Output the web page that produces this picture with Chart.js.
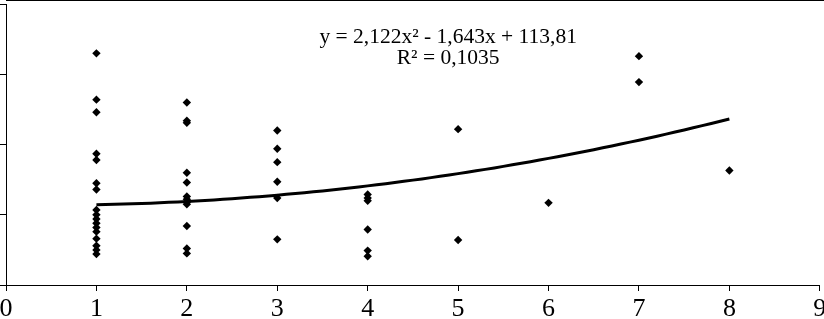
<!DOCTYPE html>
<html>
<head>
<meta charset="utf-8">
<script src="https://cdn.jsdelivr.net/npm/chart.js@4"></script>
<style>
html,body{margin:0;padding:0;background:#fff;overflow:hidden;}
#wrap{width:824px;height:319px;position:relative;}
</style>
</head>
<body>
<div id="wrap"><canvas id="c" width="824" height="319"></canvas></div>
<script>
// Observed points grouped by x category
const xCategories = [1, 2, 3, 4, 5, 6, 7, 8];
const valuesAt1 = [330, 264, 246, 187, 178, 145, 136, 107, 100, 94, 88, 82, 76, 66, 56, 50, 44];
const valuesAt2 = [260, 234, 231, 160, 146, 126, 122, 118, 115, 84, 52, 45];
const valuesAt3 = [220, 194, 175, 147, 124, 65];
const valuesAt4 = [129, 124, 120, 79, 49, 41];
const valuesAt5 = [222, 64];
const valuesAt6 = [117];
const valuesAt7 = [326, 289];
const valuesAt8 = [163];
// Trendline coefficients as printed on the chart
const trendA = 2.122, trendB = -1.643, trendC = 113.81;
const trendFrom = 1, trendTo = 8;
const equationText = "y = 2,122x\u00B2 - 1,643x + 113,81";
const r2Text = "R\u00B2 = 0,1035";
const xTickLabels = ["0","1","2","3","4","5","6","7","8","9"];

const groups = [valuesAt1, valuesAt2, valuesAt3, valuesAt4, valuesAt5, valuesAt6, valuesAt7, valuesAt8];
const scatterData = [];
groups.forEach((vals, i) => vals.forEach(v => scatterData.push({x: xCategories[i], y: v})));

const trendData = [];
for (let i = 0; i <= 70; i++) {
  const x = trendFrom + (trendTo - trendFrom) * i / 70;
  trendData.push({x: x, y: trendA * x * x + trendB * x + trendC});
}

const FONT = "'Liberation Serif', 'Times New Roman', serif";

const extras = {
  id: 'extras',
  afterDraw(chart) {
    const ctx = chart.ctx, a = chart.chartArea;
    ctx.save();
    ctx.strokeStyle = '#000';
    ctx.lineWidth = 1;
    ctx.beginPath();
    ctx.moveTo(a.left, 0.5);
    ctx.lineTo(chart.width, 0.5);
    ctx.stroke();
    ctx.fillStyle = '#000';
    ctx.font = "21.5px " + FONT;
    ctx.textAlign = 'center';
    ctx.textBaseline = 'middle';
    const cx = chart.scales.x.getPixelForValue(4.89);
    ctx.fillText(equationText, cx, 37);
    ctx.fillText(r2Text, cx, 58);
    ctx.restore();
  }
};

new Chart(document.getElementById('c'), {
  type: 'scatter',
  data: {
    datasets: [
      {
        label: 'trend',
        type: 'line',
        data: trendData,
        borderColor: '#000',
        borderWidth: 3,
        pointRadius: 0,
        fill: false,
        tension: 0,
        order: 1
      },
      {
        label: 'data',
        data: scatterData,
        pointStyle: 'rectRot',
        pointRadius: 4.2,
        backgroundColor: '#000',
        borderColor: '#000',
        borderWidth: 0,
        order: 0
      }
    ]
  },
  plugins: [extras],
  options: {
    responsive: false,
    animation: false,
    devicePixelRatio: 1,
    layout: {padding: {left: 0, right: 0, top: 0, bottom: 0}},
    plugins: {legend: {display: false}, tooltip: {enabled: false}},
    scales: {
      x: {
        type: 'linear',
        min: 0, max: 9,
        border: {display: true, color: '#000', width: 1},
        grid: {drawOnChartArea: false, drawTicks: true, tickLength: 6, color: '#000'},
        ticks: {
          stepSize: 1,
          color: '#000',
          padding: 3,
          maxRotation: 0,
          font: {family: FONT, size: 26},
          callback: (v) => xTickLabels[v] !== undefined ? xTickLabels[v] : ''
        },
        afterFit: (scale) => { scale.height = 34; scale.paddingLeft = 0; scale.paddingRight = 4; }
      },
      y: {
        min: 0, max: 400,
        border: {display: true, color: '#000', width: 1},
        grid: {drawOnChartArea: false, drawTicks: true, tickLength: 6, color: '#000'},
        ticks: {display: false, stepSize: 100}
      }
    }
  }
});
</script>
</body>
</html>
